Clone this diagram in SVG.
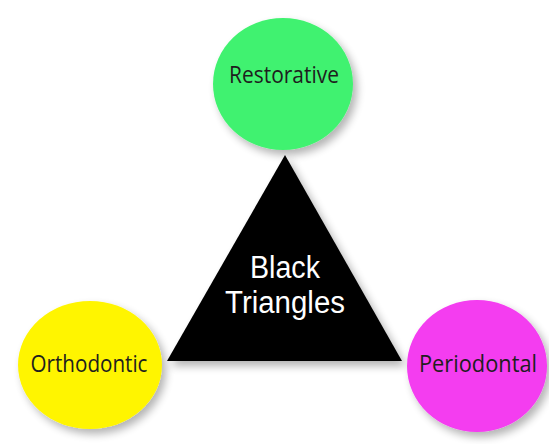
<svg xmlns="http://www.w3.org/2000/svg" width="549" height="444" viewBox="0 0 549 444">
<defs>
<filter id="sh" x="-20%" y="-20%" width="150%" height="150%">
<feGaussianBlur in="SourceAlpha" stdDeviation="4"/>
<feOffset dx="4" dy="5" result="b"/>
<feComponentTransfer><feFuncA type="linear" slope="0.3"/></feComponentTransfer>
<feMerge><feMergeNode/><feMergeNode in="SourceGraphic"/></feMerge>
</filter>
<style>
.lbl{font-family:"Open Sans","Liberation Sans",sans-serif;font-size:24px;fill:#1e1e1e;text-anchor:middle}
.big{font-family:"Liberation Sans",Arial,sans-serif;font-size:31px;fill:#fff;text-anchor:middle}
</style>
</defs>
<rect width="549" height="444" fill="#fff"/>
<g id="connectors"></g>
<g id="triangle">
<polygon points="285,155 167,361 402,361" fill="#000" filter="url(#sh)"/>
<text class="big" x="285" y="278" textLength="70" lengthAdjust="spacingAndGlyphs">Black</text>
<text class="big" x="285" y="313" textLength="120" lengthAdjust="spacingAndGlyphs">Triangles</text>
</g>
<g id="restorative">
<ellipse cx="283" cy="84" rx="70" ry="66" fill="#41f26f" filter="url(#sh)"/>
<text class="lbl" x="284" y="83" textLength="110" lengthAdjust="spacingAndGlyphs">Restorative</text>
</g>
<g id="orthodontic">
<ellipse cx="90" cy="365" rx="72" ry="64" fill="#fff500" filter="url(#sh)"/>
<text class="lbl" x="89" y="372" textLength="117" lengthAdjust="spacingAndGlyphs">Orthodontic</text>
</g>
<g id="periodontal">
<ellipse cx="477" cy="366" rx="70" ry="66" fill="#f43cf0" filter="url(#sh)"/>
<text class="lbl" x="478" y="372" textLength="118" lengthAdjust="spacingAndGlyphs">Periodontal</text>
</g>
</svg>
